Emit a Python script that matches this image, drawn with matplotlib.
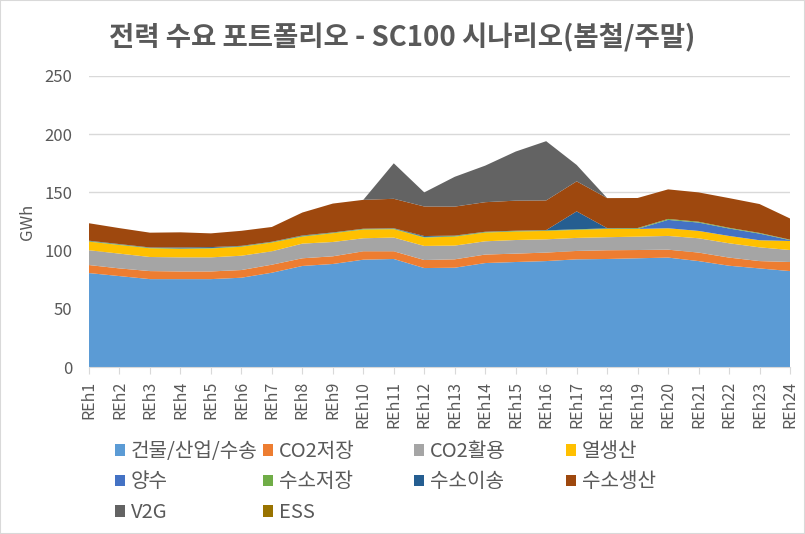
import matplotlib
matplotlib.use("Agg")
import matplotlib.pyplot as plt
from matplotlib.patches import Patch, Rectangle

plt.rcParams['font.family'] = ['Noto Sans CJK KR', 'DejaVu Sans']

hours = [f"REh{i}" for i in range(1, 25)]

series_names = ["건물/산업/수송", "CO2저장", "CO2활용", "열생산", "양수",
                "수소저장", "수소이송", "수소생산", "V2G", "ESS"]

building = [80.7, 78.1, 75.5, 75.5, 75.5, 76.7, 81.0, 86.8, 88.5, 92.2, 92.8, 85.0,
            85.3, 89.3, 90.2, 91.0, 92.5, 92.8, 93.4, 94.0, 91.0, 87.0, 84.7, 82.4]
co2_storage = [6.9, 6.6, 6.9, 6.6, 6.6, 6.6, 6.9, 6.6, 6.6, 7.2, 6.6, 6.9,
               7.2, 7.3, 7.2, 7.3, 7.2, 7.5, 7.1, 6.8, 7.3, 7.0, 6.3, 7.8]
co2_use = [12.7, 12.7, 12.1, 12.1, 12.1, 12.3, 11.5, 12.6, 12.3, 11.2, 11.8, 12.1,
           11.8, 11.4, 11.7, 11.4, 11.2, 11.2, 11.5, 11.8, 12.3, 12.3, 11.8, 10.3]
heat = [7.4, 7.4, 7.5, 7.3, 7.6, 7.7, 7.5, 6.0, 7.5, 7.5, 7.2, 7.2,
        7.7, 7.5, 7.3, 7.2, 6.9, 7.1, 6.6, 6.6, 6.3, 6.3, 6.1, 7.8]
pumped = [0, 0, 0, 0, 0, 0, 0, 0, 0, 0, 0, 0,
          0, 0, 0, 0, 0, 0, 0, 7.2, 7.2, 6.4, 5.7, 0.7]
h2_storage = [0.5, 0.5, 0.4, 0.4, 0.4, 0.5, 0.5, 0.6, 0.5, 0.5, 0.5, 0.5,
              0.6, 0.5, 0.5, 0.5, 0.5, 0.5, 0.6, 0.8, 0.7, 0.6, 0.6, 0.4]
h2_transport = [0.3, 0.3, 0.3, 0.8, 0.8, 0.3, 0.2, 0.4, 0.2, 0.2, 0.3, 0.8,
                0.3, 0.2, 0.2, 0.2, 15.4, 0.2, 0.2, 0, 0, 0, 0, 0]
h2_production = [15.0, 13.7, 12.7, 13.0, 11.8, 12.9, 12.7, 19.7, 24.8, 24.8, 25.3, 25.4,
                 24.9, 25.4, 25.8, 25.5, 25.8, 25.8, 25.8, 25.4, 25.2, 25.5, 24.8, 18.2]
v2g = [0, 0, 0, 0, 0, 0, 0, 0, 0, 0, 30.5, 12.1,
       25.6, 31.4, 42.2, 50.9, 14.1, 0, 0, 0, 0, 0, 0, 0]
ess = [0] * 24

colors = ["#5B9BD5", "#ED7D31", "#A5A5A5", "#FFC000", "#4472C4",
          "#70AD47", "#255E91", "#9E480E", "#636363", "#997300"]

data = [building, co2_storage, co2_use, heat, pumped, h2_storage,
        h2_transport, h2_production, v2g, ess]

fig = plt.figure(figsize=(8.05, 5.34), dpi=100)
ax = fig.add_axes([89/805, 1 - 367/534, (790 - 89)/805, (367 - 76)/534])

x = list(range(24))
ax.stackplot(x, *data, colors=colors, linewidth=0)

ax.set_xlim(0, 23)
ax.set_ylim(0, 250)
ax.set_yticks([0, 50, 100, 150, 200, 250])
ax.yaxis.grid(True, color="#D9D9D9", linewidth=1)
ax.set_axisbelow(True)
ax.set_xticks(x)
ax.set_xticklabels(hours, rotation=90, fontsize=11.5, color="#595959")
ax.tick_params(axis='y', length=0, labelsize=12, labelcolor="#595959", pad=12)
ax.tick_params(axis='x', length=5, color="#D9D9D9", pad=5)
for s in ["top", "right", "left"]:
    ax.spines[s].set_visible(False)
ax.spines["bottom"].set_color("#D9D9D9")
ax.set_ylabel("GWh", fontsize=12, color="#595959", labelpad=6)

fig.text(402/805, 1 - 38/534, "전력 수요 포트폴리오 - SC100 시나리오(봄철/주말)",
         ha="center", va="center", fontsize=19.8, fontweight="bold", color="#595959")

# legend: 4 columns filled row-wise
col_x = [115, 263, 414, 566]
n = len(series_names)
for c in range(4):
    idx = [i for i in range(n) if i % 4 == c]
    handles = [Patch(facecolor=colors[i], edgecolor="none") for i in idx]
    labels = [series_names[i] for i in idx]
    fig.legend(handles, labels, loc="upper left",
               bbox_to_anchor=(col_x[c]/805, 1 - 441/534),
               frameon=False, fontsize=14.5, labelcolor="#595959",
               handlelength=0.5, handleheight=0.5, handletextpad=0.3,
               labelspacing=0.47, borderpad=0, borderaxespad=0)

fig.patches.append(Rectangle((0, 0), 1, 1, transform=fig.transFigure,
                             fill=False, edgecolor="#D9D9D9", linewidth=1.5))

fig.savefig("out.png", dpi=100)
